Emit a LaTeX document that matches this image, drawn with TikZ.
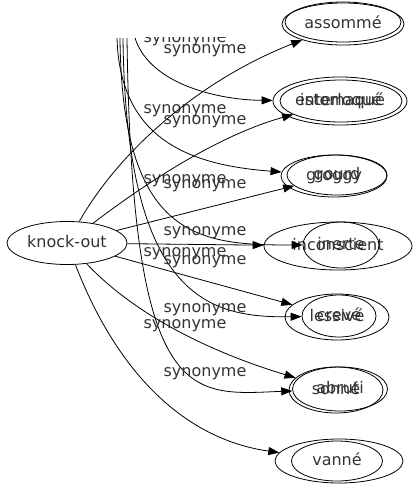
\documentclass[tikz,border=0pt]{standalone}
\usepackage{fontspec}
\setmainfont{DejaVu Sans}
\usetikzlibrary{shapes.geometric,arrows.meta}

\begin{document}
\begin{tikzpicture}[x=1pt, y=-1pt,
    every node/.style={font=\fontsize{16}{19}\selectfont, text=black!80},
    word/.style={ellipse, draw, line width=0.8pt, inner sep=0pt, text height=12pt, text depth=3.5pt},
    lbl/.style={inner sep=0pt},
    syn/.style={line width=0.8pt, -{Triangle[length=11pt,width=8pt]}}]
        \useasboundingbox (0,0) rectangle (416,491);

        % Source word
        \node[word, minimum width=120, minimum height=43] (ko) at (67,243) {knock-out};

        % Target words (pairs lie on top of each other)
        \node[word, minimum width=122, minimum height=42] (assomme) at (343,24) {assommé};
        \node[word, minimum width=116, minimum height=40] (assommeb) at (343,22) {};
        \node[word, minimum width=134, minimum height=48] (estomaque) at (340,101) {estomaqué};
        \node[word, minimum width=122, minimum height=42] (interloque) at (341,101) {interloqué};
        \node[word, minimum width=106, minimum height=42] (groggy) at (334,176) {groggy};
        \node[word, minimum width=100, minimum height=40] (gourd) at (337,175) {gourd};
        \node[word, minimum width=148, minimum height=48] (inconscient) at (338,246) {inconscient};
        \node[word, minimum width=76, minimum height=46] (inerte) at (341,245) {inerte};
        \node[word, minimum width=104, minimum height=46] (lessive) at (337,317) {lessivé};
        \node[word, minimum width=74, minimum height=42] (crevee) at (339,316) {crevé};
        \node[word, minimum width=94, minimum height=46] (sonne) at (336,390) {sonné};
        \node[word, minimum width=95, minimum height=44] (abruti) at (340,389) {abruti};
        \node[word, minimum width=91, minimum height=40] (vanne) at (337,461) {vanné};
        \node[word, minimum width=128, minimum height=44] (vanneb) at (339,461) {};

        % Edges coming in from above
        \coordinate (t1) at (135,38);
        \coordinate (t2) at (117,38);
        \coordinate (t3) at (120,38);
        \coordinate (t4) at (123,38);
        \coordinate (t5) at (127,38);
        \draw[syn] (t1) .. controls (150,85) and (220,100) .. (estomaque);
        \draw[syn] (t2) .. controls (120,140) and (190,165) .. (groggy);
        \draw[syn] (t3) .. controls (122,240) and (200,245) .. (inerte);
        \draw[syn] (t4) .. controls (126,300) and (210,318) .. (crevee);
        \draw[syn] (t5) .. controls (132,410) and (190,395) .. (abruti);
        \begin{scope}
            \clip (0,37) rectangle (260,60);
            \node[lbl] (l1) at (185,40) {synonyme};
        \end{scope}
        \node[lbl] (l2) at (185,111) {synonyme};
        \node[lbl] (l3) at (185,181) {synonyme};
        \node[lbl] (l4) at (185,254) {synonyme};
        \node[lbl] (l5) at (185,326) {synonyme};

        % Edges from knock-out
        \draw[syn] (ko) .. controls (120,150) and (200,80) .. (assomme);
        \draw[syn] (ko) .. controls (150,180) and (220,135) .. (interloque);
        \draw[syn] (ko) -- (gourd);
        \draw[syn] (ko) -- (inconscient);
        \draw[syn] (ko) -- (lessive);
        \draw[syn] (ko) .. controls (140,320) and (220,355) .. (sonne);
        \draw[syn] (ko) .. controls (120,380) and (190,440) .. (vanneb);
        \node[lbl] (k1) at (205,51) {synonyme};
        \node[lbl] (k2) at (205,122) {synonyme};
        \node[lbl] (k3) at (205,186) {synonyme};
        \node[lbl] (k4) at (205,233) {synonyme};
        \node[lbl] (k5) at (205,262) {synonyme};
        \node[lbl] (k6) at (205,310) {synonyme};
        \node[lbl] (k7) at (205,374) {synonyme};
\end{tikzpicture}
\end{document}
